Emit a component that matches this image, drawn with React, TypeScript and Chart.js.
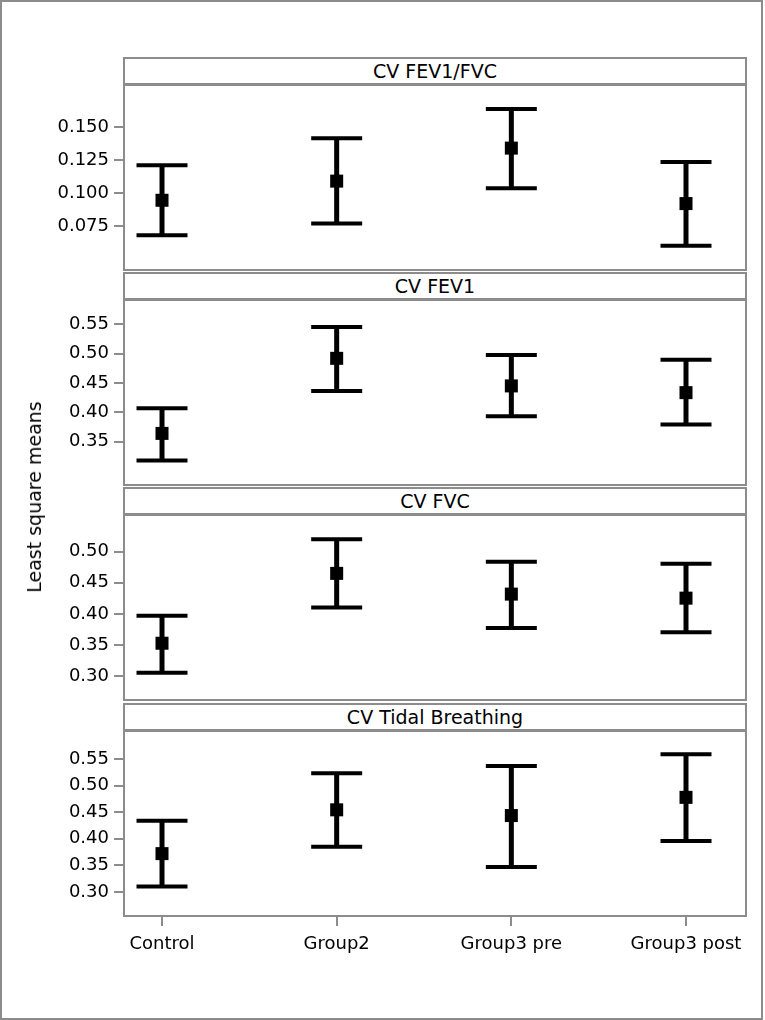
import React, { useEffect, useRef } from 'react';
import { Chart, registerables } from 'chart.js';

Chart.register(...registerables);

// ---------- data ----------
const categories = ['Control', 'Group2', 'Group3 pre', 'Group3 post'];
const panelTitles = ['CV FEV1/FVC', 'CV FEV1', 'CV FVC', 'CV Tidal Breathing'];
const yAxisTitle = 'Least square means';

const fev1fvcMean = [0.0945, 0.109, 0.134, 0.092];
const fev1fvcLower = [0.068, 0.077, 0.1036, 0.060];
const fev1fvcUpper = [0.121, 0.1414, 0.1636, 0.1235];
const fev1fvcTicks = [0.075, 0.1, 0.125, 0.15];

const fev1Mean = [0.364, 0.492, 0.445, 0.4335];
const fev1Lower = [0.3176, 0.4364, 0.3932, 0.379];
const fev1Upper = [0.4068, 0.5454, 0.4978, 0.4898];
const fev1Ticks = [0.35, 0.4, 0.45, 0.5, 0.55];

const fvcMean = [0.3527, 0.4652, 0.4318, 0.4253];
const fvcLower = [0.3053, 0.4103, 0.3774, 0.3705];
const fvcUpper = [0.3968, 0.52, 0.4839, 0.4807];
const fvcTicks = [0.3, 0.35, 0.4, 0.45, 0.5];

const tidalMean = [0.372, 0.4545, 0.4437, 0.478];
const tidalLower = [0.31, 0.385, 0.347, 0.396];
const tidalUpper = [0.4337, 0.5233, 0.5373, 0.559];
const tidalTicks = [0.3, 0.35, 0.4, 0.45, 0.5, 0.55];

const panels = [
  { title: panelTitles[0], mean: fev1fvcMean, lower: fev1fvcLower, upper: fev1fvcUpper, ticks: fev1fvcTicks, min: 0.0417, max: 0.1818, decimals: 3 },
  { title: panelTitles[1], mean: fev1Mean, lower: fev1Lower, upper: fev1Upper, ticks: fev1Ticks, min: 0.276, max: 0.5915, decimals: 2 },
  { title: panelTitles[2], mean: fvcMean, lower: fvcLower, upper: fvcUpper, ticks: fvcTicks, min: 0.2613, max: 0.5592, decimals: 2 },
  { title: panelTitles[3], mean: tidalMean, lower: tidalLower, upper: tidalUpper, ticks: tidalTicks, min: 0.2545, max: 0.603, decimals: 2 },
];

// ---------- layout / style ----------
const FONT = '"DejaVu Sans", sans-serif';
const W = 765;
const PLOT_LEFT = 124;
const PLOT_RIGHT = 746;
const HEADER_TOPS = [57, 272, 487, 703];
const PLOT_OFFSET = 28;
const PLOT_H = 185;
const PAD = 16;
const XAXIS_H = 60;
const X_MIN = -0.2176;
const X_MAX = 3.3435;
const CAP = 51;
const GRAY = '#8c8c8c';

function makeChart(canvas: HTMLCanvasElement, p: any, isLast: boolean) {
  const errorBars = {
    id: 'errorBars',
    beforeDatasetsDraw(chart: any) {
      const { ctx, scales } = chart;
      const x = scales.x;
      const y = scales.y;
      ctx.save();
      ctx.strokeStyle = '#000';
      ctx.lineCap = 'butt';
      p.lower.forEach((lo: number, i: number) => {
        const px = x.getPixelForValue(i);
        const pLo = y.getPixelForValue(lo);
        const pHi = y.getPixelForValue(p.upper[i]);
        ctx.lineWidth = 5;
        ctx.beginPath();
        ctx.moveTo(px, pLo);
        ctx.lineTo(px, pHi);
        ctx.stroke();
        ctx.lineWidth = 4;
        ctx.beginPath();
        ctx.moveTo(px - CAP / 2, pLo);
        ctx.lineTo(px + CAP / 2, pLo);
        ctx.moveTo(px - CAP / 2, pHi);
        ctx.lineTo(px + CAP / 2, pHi);
        ctx.stroke();
      });
      ctx.restore();
    },
  };
  const frame = {
    id: 'frame',
    afterDraw(chart: any) {
      const { ctx, chartArea } = chart;
      ctx.save();
      ctx.strokeStyle = GRAY;
      ctx.lineWidth = 2;
      ctx.strokeRect(chartArea.left, chartArea.top, chartArea.right - chartArea.left, chartArea.bottom - chartArea.top);
      ctx.restore();
    },
  };

  return new Chart(canvas, {
    type: 'scatter',
    data: {
      datasets: [
        {
          data: p.mean.map((m: number, i: number) => ({ x: i, y: m })),
          pointStyle: 'rect',
          pointRadius: 9.2,
          pointHoverRadius: 9.2,
          backgroundColor: '#000',
          borderColor: '#000',
          borderWidth: 0,
          showLine: false,
        },
      ],
    },
    plugins: [errorBars, frame],
    options: {
      animation: false,
      responsive: false,
      devicePixelRatio: 1,
      events: [],
      layout: { padding: { left: 0, right: W - PLOT_RIGHT, top: PAD, bottom: isLast ? 0 : PAD } },
      plugins: { legend: { display: false }, tooltip: { enabled: false } },
      scales: {
        x: {
          type: 'linear',
          min: X_MIN,
          max: X_MAX,
          display: isLast,
          afterBuildTicks: (s: any) => {
            s.ticks = categories.map((_, i) => ({ value: i }));
          },
          afterFit: (s: any) => {
            s.height = isLast ? XAXIS_H : 0;
          },
          border: { display: false },
          grid: { display: true, drawOnChartArea: false, drawTicks: true, tickLength: 10, color: GRAY, lineWidth: 2 },
          ticks: {
            autoSkip: false,
            maxRotation: 0,
            padding: 8,
            color: '#000',
            font: { family: FONT, size: 18 },
            callback: (v: any) => categories[Math.round(Number(v))] ?? '',
          },
        },
        y: {
          type: 'linear',
          min: p.min,
          max: p.max,
          afterBuildTicks: (s: any) => {
            s.ticks = p.ticks.map((v: number) => ({ value: v }));
          },
          afterFit: (s: any) => {
            s.width = PLOT_LEFT;
          },
          border: { display: false },
          grid: { display: true, drawOnChartArea: false, drawTicks: true, tickLength: 10, color: GRAY, lineWidth: 2 },
          ticks: {
            padding: 5,
            color: '#000',
            font: { family: FONT, size: 18 },
            callback: (v: any) => Number(v).toFixed(p.decimals),
          },
        },
      },
    },
  } as any);
}

export default function App() {
  const refs = useRef<(HTMLCanvasElement | null)[]>([]);

  useEffect(() => {
    const charts = panels.map((p, i) => makeChart(refs.current[i] as HTMLCanvasElement, p, i === panels.length - 1));
    return () => charts.forEach((c) => c.destroy());
  }, []);

  return (
    <div style={{ position: 'absolute', left: 0, top: 0, width: W, height: 1020, overflow: 'hidden', background: '#fff', fontFamily: FONT }}>
      <div
        style={{
          position: 'absolute',
          left: 0,
          top: 0,
          width: 763,
          height: 1020,
          boxSizing: 'border-box',
          border: `2px solid ${GRAY}`,
        }}
      />
      {panels.map((p, i) => {
        const isLast = i === panels.length - 1;
        const top = HEADER_TOPS[i] + PLOT_OFFSET - PAD;
        const h = PAD + PLOT_H + (isLast ? XAXIS_H : PAD);
        return (
          <canvas
            key={'c' + i}
            ref={(el) => {
              refs.current[i] = el;
            }}
            width={W}
            height={h}
            style={{ position: 'absolute', left: 0, top, width: W, height: h, display: 'block' }}
          />
        );
      })}
      {panels.map((p, i) => (
        <div
          key={'h' + i}
          style={{
            position: 'absolute',
            left: PLOT_LEFT - 1,
            top: HEADER_TOPS[i],
            width: PLOT_RIGHT - PLOT_LEFT + 2,
            height: PLOT_OFFSET,
            boxSizing: 'border-box',
            border: `2px solid ${GRAY}`,
            background: '#fff',
            display: 'flex',
            alignItems: 'center',
            justifyContent: 'center',
            fontSize: 19,
            color: '#000',
            whiteSpace: 'nowrap',
          }}
        >
          {p.title}
        </div>
      ))}
      <div
        style={{
          position: 'absolute',
          left: 34,
          top: 497,
          transform: 'translate(-50%, -50%) rotate(-90deg)',
          fontSize: 19,
          color: '#000',
          whiteSpace: 'nowrap',
          lineHeight: '22px',
        }}
      >
        {yAxisTitle}
      </div>
    </div>
  );
}
